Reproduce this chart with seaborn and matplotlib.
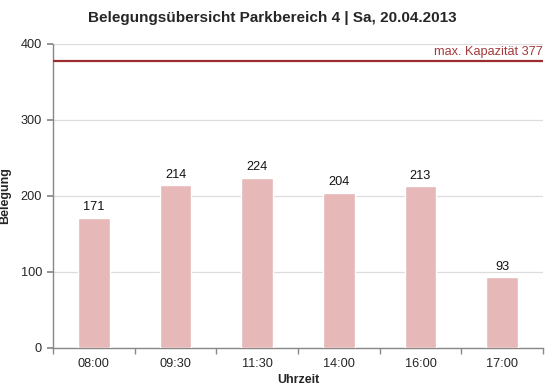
import matplotlib
matplotlib.use("Agg")
import matplotlib.pyplot as plt
import seaborn as sns
import pandas as pd

times = ["08:00", "09:30", "11:30", "14:00", "16:00", "17:00"]
occupancy = [171, 214, 224, 204, 213, 93]
capacity = 377
title = "Belegungsübersicht Parkbereich 4 | Sa, 20.04.2013"

sns.set_theme(style="white")
plt.rcParams["font.family"] = ["Liberation Sans", "DejaVu Sans"]

df = pd.DataFrame({"Uhrzeit": times, "Belegung": occupancy})

fig = plt.figure(figsize=(5.45, 3.89), dpi=100)
ax = fig.add_axes([0.0973, 0.1054, 0.8990, 0.7815])

sns.barplot(data=df, x="Uhrzeit", y="Belegung", color="#e6b8b7",
            saturation=1, width=0.39, ax=ax, zorder=3)

for i, v in enumerate(occupancy):
    ax.text(i, v + 6, str(v), ha="center", va="bottom", fontsize=9.2,
            color="#111111")

ax.axhline(capacity, color="#9b2d30", lw=1.6, zorder=4)
ax.text(5.5, capacity + 4, f"max. Kapazität {capacity}", ha="right",
        va="bottom", fontsize=9.2, color="#a33a3c")

ax.set_ylim(0, 400)
ax.set_yticks([0, 100, 200, 300, 400])
ax.set_xlim(-0.5, 5.5)
ax.yaxis.grid(True, color="#dddddd", lw=0.9, zorder=0)
ax.set_axisbelow(True)

# x ticks sit on the category boundaries, labels in the middle
ax.set_xticks([i - 0.5 for i in range(len(times) + 1)], minor=True)
ax.tick_params(axis="x", which="minor", length=4, color="#888888",
               direction="out", bottom=True)
ax.tick_params(axis="x", which="major", length=0, labelsize=9.2, pad=7)
ax.tick_params(axis="y", length=4, color="#888888", direction="out",
               left=True, labelsize=9.2, pad=4)

for s in ["top", "right"]:
    ax.spines[s].set_visible(False)
for s in ["left", "bottom"]:
    ax.spines[s].set_color("#888888")
    ax.spines[s].set_linewidth(1.0)

ax.set_xlabel("Uhrzeit", fontsize=9, fontweight="bold", labelpad=3)
ax.set_ylabel("Belegung", fontsize=9, fontweight="bold", labelpad=7)

fig.text(0.5, 0.953, title, ha="center", va="center", fontsize=11,
         fontweight="bold")

fig.savefig("out.png", dpi=100)
